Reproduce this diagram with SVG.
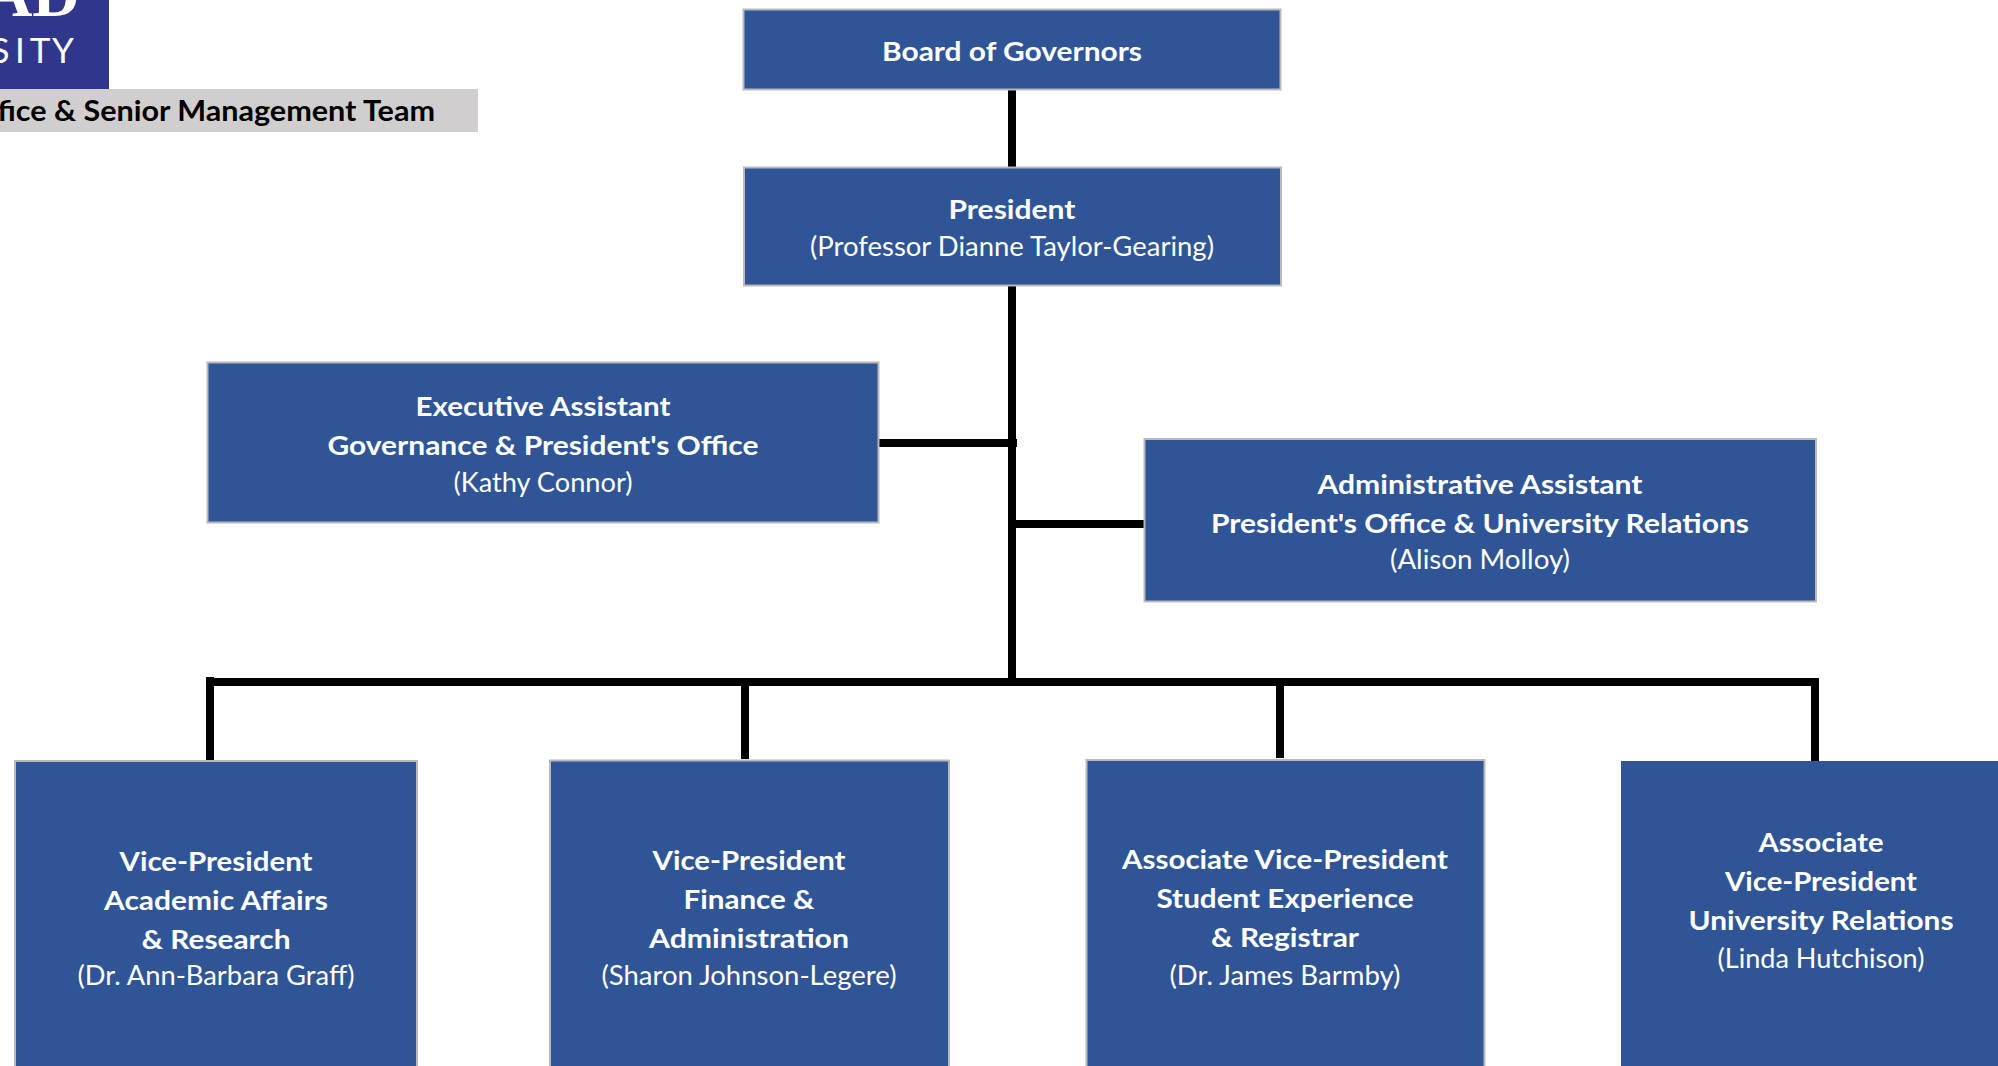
<svg xmlns="http://www.w3.org/2000/svg" width="1998" height="1066" viewBox="0 0 1998 1066">
<style>
.box{fill:#2F5597;stroke:#B7B9BD;stroke-width:2}
.t{font-family:Lato,"Open Sans",sans-serif;font-size:27px;fill:#fff;text-anchor:middle}
.b{font-weight:700}
.c{stroke:#000;fill:none;stroke-linecap:butt}
.h{stroke-width:8}
.v{stroke-width:8}
.s{font-family:Lato,sans-serif;font-size:35px;font-weight:400;fill:#fff;text-anchor:middle}
</style>
<rect width="1998" height="1066" fill="#fff"/>
<g id="logo">
<rect x="-2" y="-2" width="111" height="92" fill="#2F368B"/>
<text x="80" y="16" font-family="Liberation Serif,serif" font-size="66" font-weight="700" fill="#fff" text-anchor="end">AD</text>
<text class="s" x="0" y="63">S</text>
<text class="s" x="20" y="63">I</text>
<text class="s" x="40" y="63">T</text>
<text class="s" x="63" y="63">Y</text>
</g>
<g id="title-bar">
<rect x="-2" y="89" width="480" height="43" fill="#D0CECE"/>
<text x="435" y="121" font-family="Lato,sans-serif" font-size="29" font-weight="700" fill="#000" text-anchor="end" textLength="472" lengthAdjust="spacingAndGlyphs">Office &amp; Senior Management Team</text>
</g>
<g id="connectors">
<path class="c v" d="M1012 90V678"/>
<path class="c h" d="M879 443H1017"/>
<path class="c h" d="M1012 524H1144"/>
<path class="c h" d="M206 682H1819"/>
<path class="c v" d="M210 677V760"/>
<path class="c v" d="M745 682V759" stroke-width="7"/>
<path class="c v" d="M1280 682V758" stroke-width="7"/>
<path class="c v" d="M1815 682V761"/>
</g>
<g id="board">
<rect class="box" x="743.5" y="9.5" width="537" height="80"/>
<text class="t b" x="1012" y="61" textLength="260" lengthAdjust="spacingAndGlyphs">Board of Governors</text>
</g>
<g id="president">
<rect class="box" x="744" y="167.500" width="537" height="118"/>
<text class="t b" x="1012" y="218.500" textLength="127" lengthAdjust="spacingAndGlyphs">President</text>
<text class="t" x="1012" y="256" textLength="404" lengthAdjust="spacingAndGlyphs">(Professor Dianne Taylor-Gearing)</text>
</g>
<g id="executive-assistant">
<rect class="box" x="207.500" y="362.500" width="671" height="160"/>
<text class="t b" x="543" y="416" textLength="255" lengthAdjust="spacingAndGlyphs">Executive Assistant</text>
<text class="t b" x="543" y="455" textLength="431" lengthAdjust="spacingAndGlyphs">Governance &amp; President's Office</text>
<text class="t" x="543" y="492" textLength="179" lengthAdjust="spacingAndGlyphs">(Kathy Connor)</text>
</g>
<g id="administrative-assistant">
<rect class="box" x="1144.500" y="439" width="671.500" height="162.500"/>
<text class="t b" x="1480" y="494" textLength="325" lengthAdjust="spacingAndGlyphs">Administrative Assistant</text>
<text class="t b" x="1480" y="533" textLength="538" lengthAdjust="spacingAndGlyphs">President's Office &amp; University Relations</text>
<text class="t" x="1480" y="569" textLength="180" lengthAdjust="spacingAndGlyphs">(Alison Molloy)</text>
</g>
<g id="vp-academic">
<rect class="box" x="15" y="761" width="402" height="320"/>
<text class="t b" x="216" y="871" textLength="193" lengthAdjust="spacingAndGlyphs">Vice-President</text>
<text class="t b" x="216" y="910" textLength="224" lengthAdjust="spacingAndGlyphs">Academic Affairs</text>
<text class="t b" x="216" y="949" textLength="149" lengthAdjust="spacingAndGlyphs">&amp; Research</text>
<text class="t" x="216" y="985" textLength="277" lengthAdjust="spacingAndGlyphs">(Dr. Ann-Barbara Graff)</text>
</g>
<g id="vp-finance">
<rect class="box" x="550" y="760.500" width="399" height="320"/>
<text class="t b" x="749" y="870" textLength="193" lengthAdjust="spacingAndGlyphs">Vice-President</text>
<text class="t b" x="749" y="909" textLength="131" lengthAdjust="spacingAndGlyphs">Finance &amp;</text>
<text class="t b" x="749" y="948" textLength="200" lengthAdjust="spacingAndGlyphs">Administration</text>
<text class="t" x="749" y="985" textLength="295" lengthAdjust="spacingAndGlyphs">(Sharon Johnson-Legere)</text>
</g>
<g id="avp-student">
<rect class="box" x="1086.500" y="760" width="398" height="320"/>
<text class="t b" x="1285" y="869" textLength="326" lengthAdjust="spacingAndGlyphs">Associate Vice-President</text>
<text class="t b" x="1285" y="908" textLength="257" lengthAdjust="spacingAndGlyphs">Student Experience</text>
<text class="t b" x="1285" y="947" textLength="148" lengthAdjust="spacingAndGlyphs">&amp; Registrar</text>
<text class="t" x="1285" y="985" textLength="231" lengthAdjust="spacingAndGlyphs">(Dr. James Barmby)</text>
</g>
<g id="avp-relations">
<rect x="1621" y="761" width="400" height="320" fill="#2F5597"/>
<text class="t b" x="1821" y="852" textLength="125" lengthAdjust="spacingAndGlyphs">Associate</text>
<text class="t b" x="1821" y="891" textLength="192" lengthAdjust="spacingAndGlyphs">Vice-President</text>
<text class="t b" x="1821" y="930" textLength="265" lengthAdjust="spacingAndGlyphs">University Relations</text>
<text class="t" x="1821" y="968" textLength="207" lengthAdjust="spacingAndGlyphs">(Linda Hutchison)</text>
</g>
</svg>
